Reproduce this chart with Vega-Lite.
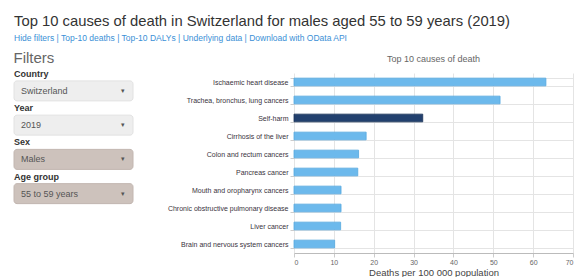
{
  "$schema": "https://vega.github.io/schema/vega-lite/v6.json",
  "padding": {"left": 13, "top": 13, "right": 6, "bottom": 0},
  "background": "white",
  "config": {"font": "Liberation Sans", "view": {"stroke": null}, "concat": {"spacing": 33}},
  "resolve": {"scale": {"fill": "independent", "stroke": "independent"}},
  "title": {
    "text": "Top 10 causes of death in Switzerland for males aged 55 to 59 years (2019)",
    "subtitle": "Hide filters | Top-10 deaths | Top-10 DALYs | Underlying data | Download with OData API",
    "anchor": "start",
    "frame": "group",
    "fontSize": 14.8,
    "fontWeight": "normal",
    "color": "#333333",
    "subtitleColor": "#3a8fd6",
    "subtitleFontSize": 8.5,
    "subtitlePadding": 5.5,
    "offset": 2
  },
  "hconcat": [
    {
      "title": {"text": "Filters", "fontSize": 15, "fontWeight": "normal", "color": "#666666", "anchor": "start", "offset": 4},
      "width": 119,
      "height": 137,
      "data": {"values": [
        {"filter": "Country", "value": "Switzerland", "state": "default"},
        {"filter": "Year", "value": "2019", "state": "default"},
        {"filter": "Sex", "value": "Males", "state": "selected"},
        {"filter": "Age group", "value": "55 to 59 years", "state": "selected"}
      ]},
      "encoding": {
        "y": {"field": "filter", "type": "nominal", "sort": null, "axis": null, "scale": {"paddingInner": 0, "paddingOuter": 0}}
      },
      "layer": [
        {
          "mark": {"type": "bar", "height": 20, "yOffset": 0.75, "cornerRadius": 3, "strokeWidth": 1},
          "encoding": {
            "x": {"value": 0},
            "x2": {"value": "width"},
            "fill": {"field": "state", "type": "nominal", "scale": {"domain": ["default", "selected"], "range": ["#eeeeee", "#cdc2bc"]}, "legend": null},
            "stroke": {"field": "state", "type": "nominal", "scale": {"domain": ["default", "selected"], "range": ["#e2e2e2", "#c2b6b0"]}, "legend": null}
          }
        },
        {
          "mark": {"type": "text", "align": "left", "baseline": "middle", "yOffset": -16.25, "fontWeight": "bold", "fontSize": 9, "color": "#333333"},
          "encoding": {"x": {"value": 0}, "text": {"field": "filter"}}
        },
        {
          "mark": {"type": "text", "align": "left", "baseline": "middle", "yOffset": 0.75, "dx": 7, "fontSize": 9, "color": "#555555"},
          "encoding": {"x": {"value": 0}, "text": {"field": "value"}}
        },
        {
          "mark": {"type": "text", "align": "right", "baseline": "middle", "yOffset": 0.75, "dx": -8, "fontSize": 7, "color": "#555555", "text": "▾"},
          "encoding": {"x": {"value": "width"}}
        }
      ]
    },
    {
      "title": {"text": ["", "Top 10 causes of death"], "lineHeight": 10.5, "fontSize": 9, "fontWeight": "normal", "color": "#666666", "anchor": "middle", "offset": 5},
      "width": 279,
      "height": 180,
      "data": {"values": [
        {"cause": "Ischaemic heart disease", "deaths": 63.2, "selected": "no"},
        {"cause": "Trachea, bronchus, lung cancers", "deaths": 51.7, "selected": "no"},
        {"cause": "Self-harm", "deaths": 32.3, "selected": "yes"},
        {"cause": "Cirrhosis of the liver", "deaths": 18.1, "selected": "no"},
        {"cause": "Colon and rectum cancers", "deaths": 16.2, "selected": "no"},
        {"cause": "Pancreas cancer", "deaths": 16.0, "selected": "no"},
        {"cause": "Mouth and oropharynx cancers", "deaths": 11.8, "selected": "no"},
        {"cause": "Chronic obstructive pulmonary disease", "deaths": 11.8, "selected": "no"},
        {"cause": "Liver cancer", "deaths": 11.7, "selected": "no"},
        {"cause": "Brain and nervous system cancers", "deaths": 10.2, "selected": "no"}
      ]},
      "mark": {"type": "bar", "strokeWidth": 0.8},
      "encoding": {
        "y": {
          "field": "cause", "type": "nominal", "sort": null,
          "scale": {"paddingInner": 0.57, "paddingOuter": 0.285},
          "axis": {"title": null, "labelFontSize": 7, "labelColor": "#3a3340", "tickBand": "extent", "tickSize": 4, "tickColor": "#cccccc", "domain": false, "grid": true, "gridColor": "#e4e4e4", "labelPadding": 2, "labelLimit": 300}
        },
        "x": {
          "field": "deaths", "type": "quantitative",
          "scale": {"domain": [0, 70], "nice": false},
          "axis": {"title": "Deaths per 100 000 population", "values": [0, 10, 20, 30, 40, 50, 60, 70], "labelFontSize": 7, "labelColor": "#666666", "titleFontSize": 9.5, "titleFontWeight": "normal", "titleColor": "#444444", "titlePadding": 2, "gridColor": "#e4e4e4", "domainColor": "#bbbbbb", "tickColor": "#cccccc", "tickSize": 4, "labelPadding": 1}
        },
        "fill": {"field": "selected", "type": "nominal", "scale": {"domain": ["no", "yes"], "range": ["#6cb9ec", "#22406e"]}, "legend": null},
        "stroke": {"field": "selected", "type": "nominal", "scale": {"domain": ["no", "yes"], "range": ["#55a8e0", "#1a3358"]}, "legend": null}
      }
    }
  ]
}
